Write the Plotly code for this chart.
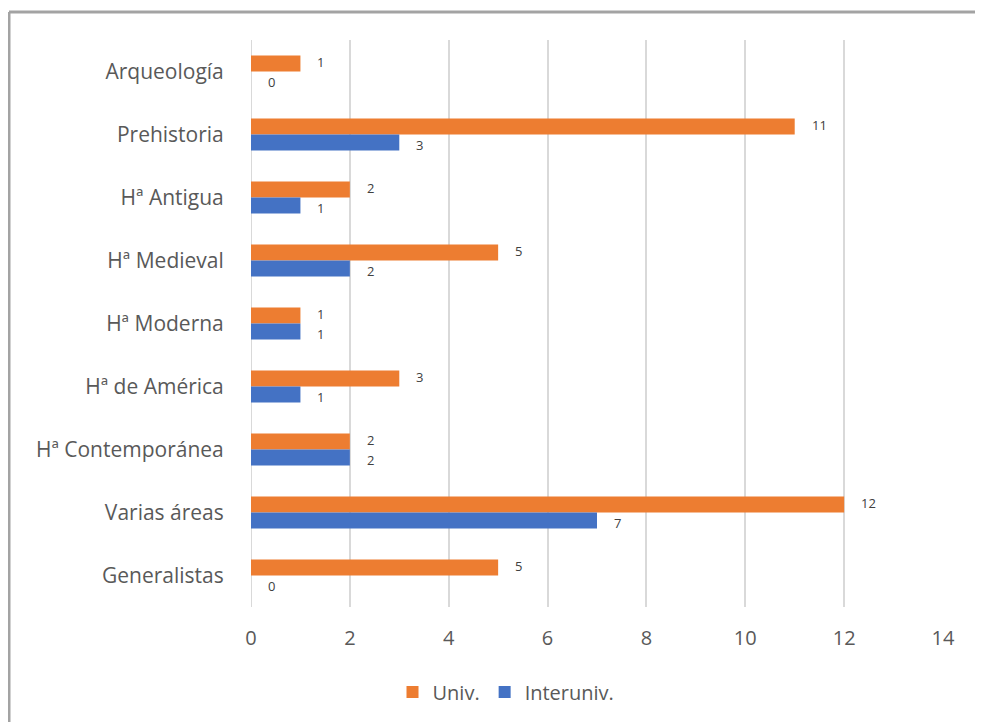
import plotly.graph_objects as go

categories = ["Arqueología", "Prehistoria", "Hª Antigua", "Hª Medieval", "Hª Moderna",
              "Hª de América", "Hª Contemporánea", "Varias áreas", "Generalistas"]
univ = [1, 11, 2, 5, 1, 3, 2, 12, 5]
interuniv = [0, 3, 1, 2, 1, 1, 2, 7, 0]
x_ticks = [0, 2, 4, 6, 8, 10, 12, 14]

ORANGE = "#ED7D31"
BLUE = "#4472C4"
TXT = "#595959"
FONT = "Open Sans"

fig = go.Figure()
fig.add_trace(go.Bar(y=categories, x=univ, orientation="h", name="Univ.",
                     marker=dict(color=ORANGE, line=dict(width=0))))
fig.add_trace(go.Bar(y=categories, x=interuniv, orientation="h", name="Interuniv.",
                     marker=dict(color=BLUE, line=dict(width=0))))

annotations = []
for c, v in zip(categories, univ):
    annotations.append(dict(x=v, y=c, xref="x", yref="y", text=str(v), showarrow=False,
                            xanchor="left", yanchor="middle", xshift=15, yshift=9.5,
                            font=dict(family=FONT, size=13, color="#404040")))
for c, v in zip(categories, interuniv):
    annotations.append(dict(x=v, y=c, xref="x", yref="y", text=str(v), showarrow=False,
                            xanchor="left", yanchor="middle", xshift=15, yshift=-10,
                            font=dict(family=FONT, size=13, color="#404040")))

# page body has an 8px margin, so the figure is offset by 8px
W, H = 975, 714
L, R, T, B = 243, 40, 32, 114
pw, ph = W - L - R, H - T - B
bx = (1 - L) / pw
by = (H - B - 4) / ph

shapes = [
    dict(type="line", xref="paper", yref="paper", x0=bx, x1=bx, y0=-0.3, y1=by,
         line=dict(color="#a3a3a3", width=3)),
    dict(type="line", xref="paper", yref="paper", x0=bx, x1=1.2, y0=by, y1=by,
         line=dict(color="#a3a3a3", width=3)),
]

legend_x = (506 - 8 - L) / pw

fig.update_layout(
    width=W, height=H,
    margin=dict(l=L, r=R, t=T, b=B),
    paper_bgcolor="white", plot_bgcolor="white",
    barmode="group", bargap=0.49, bargroupgap=0,
    font=dict(family=FONT, color=TXT),
    showlegend=True,
    legend=dict(orientation="h", x=legend_x, xanchor="center", y=-0.148, yanchor="middle",
                font=dict(family=FONT, size=20, color=TXT), traceorder="normal",
                itemwidth=30),
    annotations=annotations,
    shapes=shapes,
    xaxis=dict(range=[0, 14], tickvals=x_ticks, showgrid=True, gridcolor="#d9d9d9", gridwidth=2,
               zeroline=False, showline=False, ticks="outside", ticklen=13, tickcolor="rgba(0,0,0,0)",
               tickfont=dict(family=FONT, size=20, color=TXT), fixedrange=True),
    yaxis=dict(categoryorder="array", categoryarray=categories, autorange="reversed",
               showgrid=False, zeroline=False, showline=False, ticks="outside", ticklen=22,
               tickcolor="rgba(0,0,0,0)", tickfont=dict(family=FONT, size=21, color=TXT)),
)
fig.add_shape(type="line", xref="x", yref="paper", x0=0, x1=0, y0=0, y1=1,
              line=dict(color="#d9d9d9", width=2), layer="below")

fig.write_html("out.html")
